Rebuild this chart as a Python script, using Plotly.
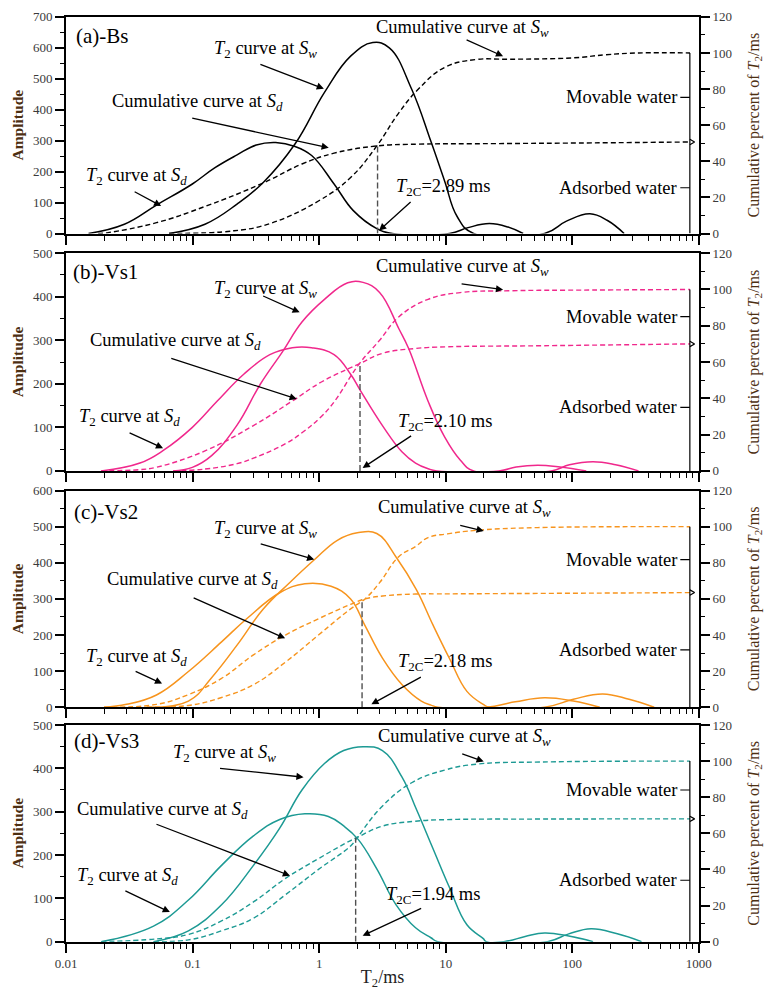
import math
import plotly.graph_objects as go

W, H = 767, 992
SERIF = "Liberation Serif"

# ---------------- data ----------------
PANEL_NAMES = ["(a)-Bs", "(b)-Vs1", "(c)-Vs2", "(d)-Vs3"]
COLORS = ["#000000", "#f0288c", "#f7941d", "#1d9a94"]
AMP_MAX = [700, 500, 600, 500]
T2C = [2.89, 2.10, 2.18, 1.94]
T2C_TOP = [48.5, 59.0, 60.0, 57.6]
BRACKET_T2 = 850

X_TICKS = [0.01, 0.1, 1, 10, 100, 1000]
X_TICKTEXT = ["0.01", "0.1", "1", "10", "100", "1000"]

# Panel (a) Bs
a_sd_t2 = [0.015, 0.0288, 0.0517, 0.0993, 0.149, 0.224, 0.318, 0.453, 0.645, 0.871, 1.31, 1.86, 2.85, 3.78,
           10.7, 15.0, 22.1, 31.0, 40.9]
a_sd_amp = [0, 30, 92, 160, 212, 254, 286, 294, 281, 252, 160, 74, 16, 0,
            0, 19, 32, 21, 0]
a_sw_t2 = [0.065, 0.125, 0.224, 0.361, 0.645, 1.10, 1.77, 2.65, 3.58, 5.37, 7.64, 9.79, 12.3, 16.6,
           60.4, 90.0, 138, 190, 257]
a_sw_amp = [0, 30, 95, 165, 290, 456, 573, 617, 600, 467, 297, 170, 55, 0,
            0, 40, 64, 42, 0]
a_sdc_t2 = [0.0179, 0.0214, 0.0517, 0.125, 0.361, 0.730, 1.31, 2.85, 6.08, 24.9, 146, 853]
a_sdc = [0, 0.5, 6, 15, 28, 38.5, 44.5, 48.5, 49.5, 49.8, 50.2, 50.7]
a_swc_t2 = [0.065, 0.212, 0.407, 0.986, 1.77, 2.85, 4.27, 6.08, 9.79, 17.5, 31.4, 102, 184, 335, 853]
a_swc = [0, 1.5, 5.5, 18, 31, 48.5, 67, 80, 92, 96.4, 96.5, 97.3, 99, 100, 100]

# Panel (b) Vs1
b_sd_t2 = [0.0189, 0.0383, 0.0585, 0.0993, 0.157, 0.253, 0.407, 0.612, 0.871, 1.31, 1.77, 2.11, 3.16, 4.50,
           5.77, 7.25, 8.5, 26.3, 36.0, 53.3, 80.0, 129]
b_sd_amp = [0, 18, 47, 100, 161, 222, 267, 283, 283, 267, 222, 185, 104, 44,
            18, 5, 0, 0, 9, 13, 9, 0]
b_sw_t2 = [0.07, 0.0993, 0.141, 0.224, 0.342, 0.513, 0.730, 1.10, 1.68, 2.22, 3.0, 4.27, 5.09, 7.25,
           9.79, 13.0, 16.6, 68.3, 95.0, 146, 220, 334]
b_sw_amp = [0, 8, 35, 105, 199, 274, 342, 394, 432, 433, 410, 326, 281, 160,
            78, 25, 0, 0, 14, 21, 14, 0]
b_sdc_t2 = [0.0189, 0.0383, 0.0517, 0.125, 0.302, 0.612, 1.04, 2.07, 3.16, 5.77, 10.3, 60.0, 853]
b_sdc = [0, 0.7, 2, 11, 25, 38.5, 49, 59, 64.8, 67.5, 68.4, 69, 70]
b_swc_t2 = [0.07, 0.125, 0.224, 0.302, 0.541, 0.730, 1.04, 1.31, 2.07, 3.0, 4.27, 7.25, 13.0, 31.4, 146, 853]
b_swc = [0, 1, 4, 7, 15, 21, 30, 38, 59, 72, 85, 94.6, 98.3, 99.3, 99.7, 100]

# Panel (c) Vs2
c_sd_t2 = [0.0199, 0.030, 0.0517, 0.0925, 0.169, 0.267, 0.487, 0.770, 1.24, 1.77, 2.30, 3.16, 4.50, 6.41,
           7.64, 8.65, 20.9, 35.5, 60.4, 102, 165]
c_sd_amp = [0, 8, 34, 99, 181, 245, 317, 342, 335, 300, 226, 136, 63, 17,
            6, 0, 0, 15, 26, 17, 0]
c_sw_t2 = [0.0433, 0.0925, 0.141, 0.224, 0.361, 0.580, 0.919, 1.40, 2.00, 2.85, 4.12, 5.87, 7.92, 10.7,
           14.7, 19.8, 22.1, 60.4, 102, 174, 281, 444]
c_sw_amp = [0, 17, 82, 172, 272, 344, 409, 463, 483, 481, 412, 325, 228, 135,
            44, 8, 0, 0, 22, 37, 22, 0]
c_sdc_t2 = [0.0199, 0.0517, 0.0925, 0.169, 0.302, 0.541, 0.986, 1.77, 2.30, 3.16, 5.77, 10.3, 146, 853]
c_sdc = [0, 1.6, 7, 16, 29, 40, 49, 57, 60, 61.6, 62.7, 62.8, 63.2, 63.5]
c_swc_t2 = [0.0433, 0.0925, 0.169, 0.302, 0.541, 0.986, 1.77, 2.30, 3.0, 4.27, 5.77, 7.25, 10.3, 17.5, 53.3, 853]
c_swc = [0, 1, 5.4, 12.5, 25, 40, 54.5, 60, 69, 83.5, 89, 94, 96, 98, 99.5, 100]

# Panel (d) Vs3
d_sd_t2 = [0.0189, 0.049, 0.0925, 0.169, 0.302, 0.487, 0.770, 1.18, 1.56, 2.03, 2.85, 4.05, 5.77, 7.64,
           8.65, 28.8, 42.4, 60.4, 93.8, 146]
d_sd_amp = [0, 36, 96, 176, 244, 282, 295, 289, 267, 236, 168, 85, 32, 9,
            0, 0, 12, 20, 13, 0]
d_sw_t2 = [0.049, 0.0925, 0.169, 0.302, 0.487, 0.730, 1.10, 1.56, 2.22, 3.16, 4.50, 5.87, 7.92, 10.7,
           14.7, 19.8, 20.9, 63.7, 93.8, 141, 227, 353]
d_sw_amp = [0, 25, 85, 176, 262, 350, 411, 441, 450, 441, 380, 305, 215, 125,
            39, 7, 0, 0, 18, 30, 18, 0]
d_sdc_t2 = [0.0189, 0.0517, 0.0925, 0.169, 0.302, 0.541, 0.986, 1.77, 2.03, 3.16, 5.77, 10.3, 60.0, 853]
d_sdc = [0, 1.5, 4, 11.5, 22, 35, 46, 56, 58, 64, 66.7, 67.6, 67.9, 68]
d_swc_t2 = [0.049, 0.0925, 0.169, 0.302, 0.541, 0.986, 1.77, 2.00, 3.05, 5.37, 9.79, 17.5, 57.2, 853]
d_swc = [0, 1, 6, 13, 26, 40, 53, 57.6, 74, 88, 95, 98.3, 99.5, 100]

SD_T2 = [a_sd_t2, b_sd_t2, c_sd_t2, d_sd_t2]
SD_AMP = [a_sd_amp, b_sd_amp, c_sd_amp, d_sd_amp]
SW_T2 = [a_sw_t2, b_sw_t2, c_sw_t2, d_sw_t2]
SW_AMP = [a_sw_amp, b_sw_amp, c_sw_amp, d_sw_amp]
SDC_T2 = [a_sdc_t2, b_sdc_t2, c_sdc_t2, d_sdc_t2]
SDC = [a_sdc, b_sdc, c_sdc, d_sdc]
SWC_T2 = [a_swc_t2, b_swc_t2, c_swc_t2, d_swc_t2]
SWC = [a_swc, b_swc, c_swc, d_swc]

# ---------------- layout geometry (pixels) ----------------
X_PX = (57, 710)
PANEL_PX = [(10, 230), (250, 471), (491, 711), (729, 949)]

T2_SW = "<i>T</i><sub>2</sub> curve at <i>S</i><sub><i>w</i></sub>"
T2_SD = "<i>T</i><sub>2</sub> curve at <i>S</i><sub><i>d</i></sub>"
CUM_SW = "Cumulative curve at <i>S</i><sub><i>w</i></sub>"
CUM_SD = "Cumulative curve at <i>S</i><sub><i>d</i></sub>"

# label positions (left x, center y) and arrows (tail -> tip), pixels
LABELS = [
    {"name": (65, 29), "t2sw": (207, 43, 258, 58, 323, 83), "cumsd": (102, 97, 190, 113, 328, 143),
     "t2sd": (75, 172, 127, 187, 155, 202), "cumsw": (375, 22, 470, 33, 508, 50),
     "t2c": (395, 183, 413, 197, 380, 227)},
    {"name": (62, 269), "t2sw": (207, 287, 260, 293, 298, 310), "cumsd": (80, 340, 168, 357, 295, 398),
     "t2sd": (68, 417, 122, 432, 157, 448), "cumsw": (375, 265, 465, 281, 508, 287),
     "t2c": (397, 422, 413, 435, 363, 468)},
    {"name": (63, 513), "t2sw": (207, 531, 258, 545, 313, 561), "cumsd": (97, 582, 190, 600, 283, 641),
     "t2sd": (75, 660, 128, 674, 156, 687), "cumsw": (377, 509, 463, 526, 488, 532),
     "t2c": (397, 666, 423, 680, 372, 708)},
    {"name": (63, 745), "t2sw": (165, 758, 217, 773, 302, 782), "cumsd": (66, 816, 153, 830, 288, 882),
     "t2sd": (66, 883, 118, 897, 164, 919), "cumsw": (377, 742, 465, 758, 488, 766),
     "t2c": (385, 902, 423, 915, 363, 943)},
]


def px2paper(x, y):
    return x / W, 1 - y / H


fig = go.Figure()
annotations = []
layout = dict(
    width=W, height=H, margin=dict(l=0, r=0, t=0, b=0),
    paper_bgcolor="white", plot_bgcolor="white", showlegend=False,
    font=dict(family=SERIF, color="#333333", size=13),
)

MINOR_X = [m * 10 ** e for e in range(-2, 3) for m in range(2, 10)]
XDOM = [X_PX[0] / W, X_PX[1] / W]
TITLE_COLOR = "#4d2f12"
TICKFONT = dict(family=SERIF, size=13, color="#3a3a3a")
LABEL_FONT = dict(family=SERIF, size=18.5, color="black")

for i in range(4):
    k = i + 1
    sfx = "" if k == 1 else str(k)
    xa, ya, yr = "x" + sfx, "y" + sfx, "y" + str(k + 4)
    col = COLORS[i]
    y0, y1 = PANEL_PX[i]
    ydom = [1 - y1 / H, 1 - y0 / H]

    solid = dict(color=col, width=1.5, shape="spline", smoothing=1.2)
    dashed = dict(color=col, width=1.4, dash="5px,3px", shape="spline", smoothing=1.2)

    fig.add_trace(go.Scatter(x=SD_T2[i], y=SD_AMP[i], mode="lines", line=solid, xaxis=xa, yaxis=ya,
                             name="T2 curve at Sd"))
    fig.add_trace(go.Scatter(x=SW_T2[i], y=SW_AMP[i], mode="lines", line=solid, xaxis=xa, yaxis=ya,
                             name="T2 curve at Sw"))
    fig.add_trace(go.Scatter(x=SDC_T2[i], y=SDC[i], mode="lines", line=dashed, xaxis=xa, yaxis=yr,
                             name="Cumulative curve at Sd"))
    fig.add_trace(go.Scatter(x=SWC_T2[i], y=SWC[i], mode="lines", line=dashed, xaxis=xa, yaxis=yr,
                             name="Cumulative curve at Sw"))
    # T2 cutoff line
    fig.add_trace(go.Scatter(x=[T2C[i], T2C[i]], y=[0, T2C_TOP[i]], mode="lines",
                             line=dict(color="#505050", width=1.4, dash="6px,3px"),
                             xaxis=xa, yaxis=yr, name="T2C"))
    # bracket for movable / adsorbed water
    sd_final = SDC[i][-1]
    mov = (100 + sd_final) / 2
    ads = sd_final / 2
    bk = dict(color="black", width=1.2)
    fig.add_trace(go.Scatter(x=[BRACKET_T2, BRACKET_T2], y=[0, 100], mode="lines", line=bk,
                             xaxis=xa, yaxis=yr, name="bracket"))
    fig.add_trace(go.Scatter(x=[BRACKET_T2 / 1.19, BRACKET_T2], y=[mov, mov], mode="lines", line=bk,
                             xaxis=xa, yaxis=yr, name="movable"))
    fig.add_trace(go.Scatter(x=[BRACKET_T2 / 1.19, BRACKET_T2], y=[ads, ads], mode="lines", line=bk,
                             xaxis=xa, yaxis=yr, name="adsorbed"))
    fig.add_trace(go.Scatter(x=[BRACKET_T2, BRACKET_T2 * 1.09, BRACKET_T2],
                             y=[sd_final + 1.5, sd_final, sd_final - 1.5], mode="lines", line=bk,
                             xaxis=xa, yaxis=yr, name="notch"))
    lx = math.log10(BRACKET_T2 / 1.21)
    annotations.append(dict(text="Movable water", x=lx, y=mov, xref=xa, yref=yr, xanchor="right",
                            yanchor="middle", showarrow=False, font=LABEL_FONT))
    annotations.append(dict(text="Adsorbed water", x=lx, y=ads, xref=xa, yref=yr, xanchor="right",
                            yanchor="middle", showarrow=False, font=LABEL_FONT))

    # text labels & arrows
    L = LABELS[i]
    nx, ny = px2paper(*L["name"])
    annotations.append(dict(text=PANEL_NAMES[i], x=nx, y=ny, xref="paper", yref="paper", xanchor="left",
                            yanchor="middle", showarrow=False, font=dict(family=SERIF, size=21, color="black")))
    for key, txt in [("t2sw", T2_SW), ("cumsd", CUM_SD), ("t2sd", T2_SD), ("cumsw", CUM_SW),
                     ("t2c", "<i>T</i><sub>2C</sub>=%.2f ms" % T2C[i])]:
        tx, ty, ax0, ay0, ax1, ay1 = L[key]
        px_, py_ = px2paper(tx, ty)
        annotations.append(dict(text=txt, x=px_, y=py_, xref="paper", yref="paper", xanchor="left",
                                yanchor="middle", showarrow=False, font=LABEL_FONT))
        hx, hy = px2paper(ax1, ay1)
        annotations.append(dict(text="", x=hx, y=hy, xref="paper", yref="paper", showarrow=True,
                                axref="pixel", ayref="pixel", ax=ax0 - ax1, ay=ay0 - ay1,
                                arrowhead=2, arrowsize=1.1, arrowwidth=1.3, arrowcolor="black",
                                standoff=0, startstandoff=0))

    layout["xaxis" + sfx] = dict(
        type="log", domain=XDOM, range=[-2, 3], anchor=ya,
        tickmode="array", tickvals=X_TICKS, ticktext=X_TICKTEXT, showticklabels=(k == 4),
        ticks="outside", ticklen=9, tickwidth=1.5, tickcolor="black",
        minor=dict(tickmode="array", tickvals=MINOR_X, ticks="outside", ticklen=5, tickwidth=1.2,
                   tickcolor="black", showgrid=False),
        showline=True, mirror=True, linecolor="black", linewidth=2,
        showgrid=False, zeroline=False, tickfont=TICKFONT,
    )
    if k == 4:
        layout["xaxis" + sfx]["title"] = dict(text="T<sub>2</sub>/ms", standoff=0,
                                              font=dict(family=SERIF, size=18, color="#222222"))
    layout["yaxis" + sfx] = dict(
        domain=ydom, anchor=xa, range=[0, AMP_MAX[i]], dtick=100, tick0=0,
        ticks="outside", ticklen=9, tickwidth=1.5, tickcolor="black",
        minor=dict(dtick=50, ticks="outside", ticklen=4, tickwidth=1.2, tickcolor="black", showgrid=False),
        showline=True, linecolor="black", linewidth=2, showgrid=False, zeroline=False,
        tickfont=TICKFONT,
        title=dict(text="<b>Amplitude</b>", standoff=6, font=dict(family=SERIF, size=15.5, color=TITLE_COLOR)),
    )
    layout["yaxis" + str(k + 4)] = dict(
        overlaying=ya, side="right", anchor=xa, range=[0, 120], dtick=20, tick0=0,
        ticks="outside", ticklen=9, tickwidth=1.5, tickcolor="black",
        minor=dict(dtick=10, ticks="outside", ticklen=4, tickwidth=1.2, tickcolor="black", showgrid=False),
        showline=True, linecolor="black", linewidth=2, showgrid=False, zeroline=False,
        tickfont=TICKFONT,
        title=dict(text="Cumulative percent of <i>T</i><sub>2</sub>/ms", standoff=17,
                   font=dict(family=SERIF, size=16, color=TITLE_COLOR)),
    )

layout["annotations"] = annotations
fig.update_layout(**layout)
fig.write_html("out.html")
